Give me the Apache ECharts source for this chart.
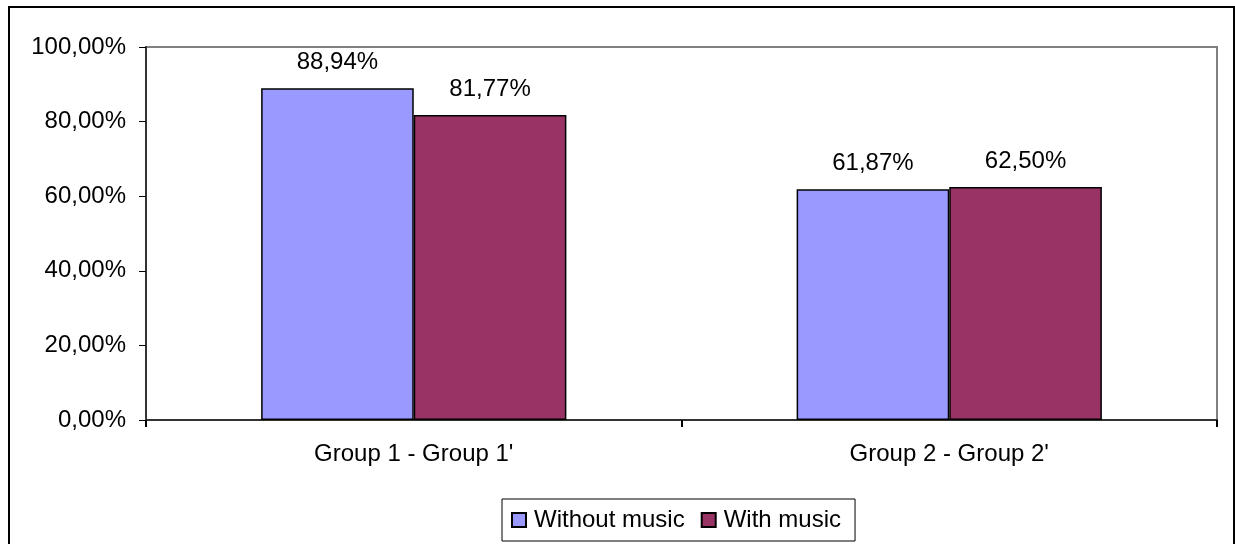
<!DOCTYPE html>
<html>
<head>
<meta charset="utf-8">
<script src="https://cdn.jsdelivr.net/npm/echarts@6/dist/echarts.min.js"></script>
<style>
html,body{margin:0;padding:0;background:#fff;}
#chart{width:1235px;height:544px;}
</style>
</head>
<body>
<div id="chart"></div>
<script>
const categories = ["Group 1 - Group 1'", "Group 2 - Group 2'"];
const withoutMusic = [88.94, 61.87];
const withMusic = [81.77, 62.50];
const seriesNames = ["Without music", "With music"];
const yTicks = [0, 20, 40, 60, 80, 100];

const fmt = v => v.toFixed(2).replace('.', ',') + '%';
const FONT = 'Liberation Sans, Arial, sans-serif';

const chart = echarts.init(document.getElementById('chart'), null, {renderer: 'canvas'});
chart.setOption({
  animation: false,
  backgroundColor: '#ffffff',
  textStyle: {fontFamily: FONT},
  graphic: [{
    type: 'rect',
    shape: {x: 9, y: 7, width: 1225, height: 580},
    style: {fill: 'none', stroke: '#000', lineWidth: 2},
    silent: true, z: 100
  }],
  grid: {
    left: 146, top: 47, right: 18, bottom: 124,
    show: true, borderColor: '#808080', borderWidth: 2, backgroundColor: '#fff'
  },
  legend: {
    left: 502, top: 499,
    data: seriesNames,
    itemWidth: 14, itemHeight: 14, itemGap: 16,
    padding: [9, 14, 9, 9],
    borderColor: '#000', borderWidth: 1,
    textStyle: {fontSize: 24, color: '#000', fontFamily: FONT, padding: [0, 0, 0, 3]},
    icon: 'rect'
  },
  xAxis: {
    type: 'category',
    data: categories,
    axisLine: {show: true, lineStyle: {color: '#333', width: 2}},
    axisTick: {show: true, length: 7, lineStyle: {color: '#000', width: 2}},
    axisLabel: {fontSize: 24, color: '#000', margin: 22, fontFamily: FONT},
    splitLine: {show: false}
  },
  yAxis: {
    type: 'value',
    min: yTicks[0], max: yTicks[yTicks.length - 1], interval: 20,
    axisLine: {show: true, lineStyle: {color: '#333', width: 2}},
    axisTick: {show: true, length: 7, lineStyle: {color: '#000', width: 1}},
    axisLabel: {fontSize: 24, color: '#000', margin: 20, fontFamily: FONT, formatter: v => fmt(v)},
    splitLine: {show: false}
  },
  series: [
    {
      name: seriesNames[0], type: 'bar', data: withoutMusic,
      barGap: '0%', barCategoryGap: '43%',
      itemStyle: {color: '#9999FF', borderColor: '#000', borderWidth: 1.5},
      label: {show: true, position: 'top', distance: 14, fontSize: 24, color: '#000', fontFamily: FONT, formatter: p => fmt(p.value)}
    },
    {
      name: seriesNames[1], type: 'bar', data: withMusic,
      itemStyle: {color: '#993366', borderColor: '#000', borderWidth: 1.5},
      label: {show: true, position: 'top', distance: 14, fontSize: 24, color: '#000', fontFamily: FONT, formatter: p => fmt(p.value)}
    }
  ]
});
</script>
</body>
</html>
